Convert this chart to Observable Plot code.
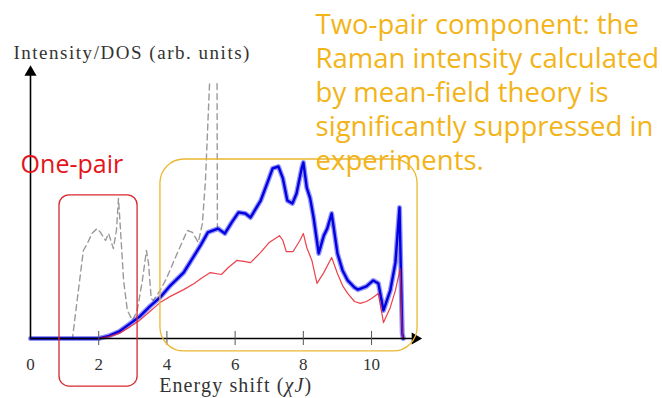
<!DOCTYPE html>
<html><head><meta charset="utf-8">
<script src="https://cdn.jsdelivr.net/npm/d3@7"></script>
<script src="https://cdn.jsdelivr.net/npm/@observablehq/plot@0.6"></script>
<style>body{margin:0;background:#fff}</style>
</head><body><div id="chart"></div>
<script>
// Two-pair Raman intensity (thick blue)
const blueE = [0, 2.0, 2.3, 2.6, 2.93, 3.2, 3.5, 3.8, 4.1, 4.49, 4.8, 5.0, 5.2, 5.5, 5.7, 5.9, 6.1, 6.3, 6.45, 6.75, 6.95, 7.1, 7.27, 7.4, 7.53, 7.68, 7.8, 7.95, 8.0, 8.1, 8.2, 8.3, 8.45, 8.6, 8.7, 8.83, 9.0, 9.15, 9.3, 9.5, 9.6, 9.85, 10.05, 10.2, 10.35, 10.55, 10.7, 10.82, 10.9, 10.93];
const blueI = [0, 0, 1, 2.6, 5.6, 8.1, 11.9, 15.2, 19.6, 24.4, 30.7, 34.8, 39.3, 40.7, 38.9, 43, 46.7, 46.3, 44.8, 51.1, 57.8, 63, 63.7, 59.3, 51.1, 50, 53.7, 63, 65.2, 55.9, 51.9, 44.8, 31.5, 38.1, 40.7, 46.3, 31.5, 25.2, 21.5, 18.9, 18.1, 19.3, 21.5, 20.4, 10.4, 17.8, 28.1, 48.5, 1.9, 0];
// Mean-field intensity (thin red)
const redE = [0, 2.0, 2.3, 2.6, 2.93, 3.2, 3.5, 3.8, 4.1, 4.49, 4.8, 5.0, 5.27, 5.6, 5.8, 6.05, 6.3, 6.45, 6.75, 7.0, 7.3, 7.4, 7.5, 7.7, 7.9, 8.0, 8.1, 8.25, 8.4, 8.6, 8.83, 9.0, 9.15, 9.3, 9.5, 9.67, 9.85, 10.0, 10.2, 10.35, 10.55, 10.7, 10.84, 10.9, 10.93];
const redI = [0, 0, 0.7, 1.9, 4.4, 6.7, 10, 13.3, 15.6, 18.1, 20.4, 22.2, 24.4, 23.7, 26.3, 28.9, 28.5, 28.1, 31.9, 35.6, 38.1, 36.3, 32.2, 32.2, 36.3, 38.9, 33.7, 28.9, 20.4, 24.4, 30, 24.1, 19.6, 16.7, 13.7, 13, 13.7, 14.8, 16.7, 5.9, 11.5, 17.8, 25.9, 1, 0];
// Density of states (gray dashed); null = off the top of the chart
const dosE = [0, 1.23, 1.32, 1.55, 1.67, 1.8, 1.95, 2.05, 2.2, 2.29, 2.43, 2.52, 2.58, 2.64, 2.73, 2.84, 2.99, 3.13, 3.28, 3.4, 3.46, 3.54, 3.6, 3.8, 4.0, 4.3, 4.6, 4.75, 4.92, 5.04, 5.13, 5.25, 5.36, 5.47, 5.48];
const dosI = [0, 0, 9.3, 32.6, 35.2, 38.9, 40.7, 39.3, 36.3, 38.9, 33.3, 40, 51.9, 40, 21.5, 10.4, 6.7, 10.4, 21.5, 32.6, 27.8, 14.8, 14.1, 17.8, 22.6, 31.5, 40, 39.3, 35.6, 42.6, 58.5, 94.4, null, 94.4, 41.1];

const xTicks = [0, 2, 4, 6, 8, 10];
const xLabel = "Energy shift (χJ)";
const yLabel = "Intensity/DOS (arb. units)";
const onePairLabel = "One-pair";
const twoPairNote = ["Two-pair component: the", "Raman intensity calculated", "by mean-field theory is", "significantly suppressed in", "experiments."];

const xMax = 11.45, yMax = 100;
const axisEnds = [{x: 11.28, y: 0, rot: 90}, {x: 0, y: 98.6, rot: 0}];
const onePairBox = [{x1: 0.85, x2: 3.14, y1: -17.8, y2: 53}];
const twoPairBox = [{x1: 3.81, x2: 11.35, y1: -4.8, y2: 66.3}];
const labelPos = {xl: {x: 6.0, y: -14.6}, yl: {x: -0.5, y: 108.5}, one: {x: -0.29, y: 67.8}, note: {x: 8.36, y: 121.5}};

const toRows = (E, I) => E.map((e, i) => ({E: e, I: I[i]}));
const blue = toRows(blueE, blueI), red = toRows(redE, redI), dos = toRows(dosE, dosI);

const serif = "'Liberation Serif', 'DejaVu Serif', serif";
const hand = "'Open Sans', 'Noto Sans', sans-serif";

const svg = Plot.plot({
  width: 662, height: 398,
  marginLeft: 30, marginRight: 241.5, marginTop: 68, marginBottom: 60,
  x: {domain: [0, xMax]},
  y: {domain: [0, yMax], axis: null},
  style: {background: "white", overflow: "visible"},
  marks: [
    Plot.line(dos, {x: "E", y: "I", stroke: "#9a9a9a", strokeWidth: 1.4, strokeDasharray: "6,4"}),
    Plot.line(blue, {x: "E", y: "I", stroke: "#2b2bf0", strokeWidth: 5, strokeOpacity: 0.5}),
    Plot.line(blue, {x: "E", y: "I", stroke: "#0000e0", strokeWidth: 2.4}),
    Plot.line(red, {x: "E", y: "I", stroke: "#e8202a", strokeWidth: 1.2, strokeOpacity: 0.85}),
    Plot.ruleY([0], {x1: 0, x2: axisEnds[0].x, stroke: "black", strokeWidth: 1.6}),
    Plot.ruleX([0], {y1: 0, y2: axisEnds[1].y, stroke: "black", strokeWidth: 1.6}),
    Plot.dot(axisEnds, {x: "x", y: "y", rotate: "rot", symbol: "triangle", r: 4.5, fill: "black", stroke: null}),
    Plot.ruleX(xTicks.filter(d => d > 0), {y1: 2.6, y2: -2.6, stroke: "#555", strokeWidth: 1}),
    Plot.axisX({ticks: xTicks, tickSize: 0, tickPadding: 19, fontSize: 17, fontFamily: serif, fill: "#333", label: null}),
    Plot.rect(onePairBox, {x1: "x1", x2: "x2", y1: "y1", y2: "y2", rx: 10, fill: "none", stroke: "#d7282f", strokeWidth: 1.3}),
    Plot.rect(twoPairBox, {x1: "x1", x2: "x2", y1: "y1", y2: "y2", rx: 24, fill: "none", stroke: "#ecb731", strokeWidth: 1.3}),
    Plot.text([xLabel], {x: labelPos.xl.x, y: labelPos.xl.y, text: d => d, fontSize: 20, fontFamily: serif, fill: "#333", lineAnchor: "top", textAnchor: "middle"}),
    Plot.text([yLabel], {x: labelPos.yl.x, y: labelPos.yl.y, text: d => d, fontSize: 19, fontFamily: serif, fill: "#333", lineAnchor: "top", textAnchor: "start"}),
    Plot.text([onePairLabel], {x: labelPos.one.x, y: labelPos.one.y, text: d => d, fontSize: 25, fontFamily: hand, fill: "#e5141b", lineAnchor: "top", textAnchor: "start"}),
    Plot.text([twoPairNote.join("\n")], {x: labelPos.note.x, y: labelPos.note.y, text: d => d, fontSize: 27.5, lineHeight: 1.23, fontFamily: hand, fill: "#f2b418", lineAnchor: "top", textAnchor: "start"})
  ]
});

// italic χJ in the x-axis label, and Computer-Modern-like widths for the axis labels
const sel = d3.select(svg).selectAll("text");
sel.filter(function () { return this.textContent === xLabel; }).each(function () {
  const t = d3.select(this);
  t.text(null);
  t.append("tspan").text("Energy shift (");
  t.append("tspan").attr("font-style", "italic").text("χJ");
  t.append("tspan").text(")");
  t.attr("textLength", 152).attr("lengthAdjust", "spacing");
});
sel.filter(function () { return this.textContent === yLabel; })
  .attr("textLength", 236).attr("lengthAdjust", "spacing");

document.getElementById("chart").appendChild(svg);
</script>
</body></html>
